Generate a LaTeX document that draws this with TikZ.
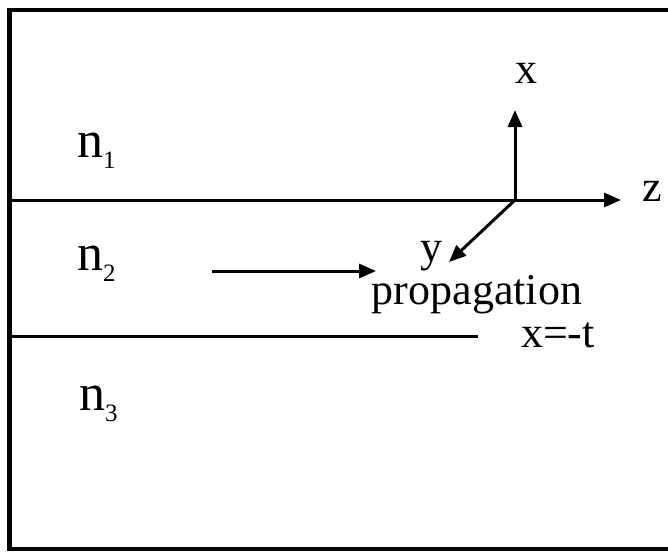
\documentclass[tikz,border=0pt]{standalone}
\usepackage{fontspec}
\setmainfont{Liberation Serif}
\usetikzlibrary{arrows.meta}
\newcommand{\mysub}[1]{\raisebox{-11pt}{\fontsize{25}{25}\selectfont #1}}
\tikzset{
  frameline/.style={line width=4.5pt, line join=miter},
  axisline/.style={line width=3pt},
  arr/.style={axisline, -{Triangle[length=17pt,width=14pt]}},
  lbl/.style={inner sep=0pt, anchor=base, font=\fontsize{44}{50}\selectfont},
  nlbl/.style={inner sep=0pt, anchor=base west, font=\fontsize{52}{58}\selectfont},
}
\begin{document}
\begin{tikzpicture}[x=1pt,y=-1pt]
\useasboundingbox (0,0) rectangle (668,551);
% frame (open on the right)
\coordinate (ftr) at (668,10);
\coordinate (ftl) at (9.5,10);
\coordinate (fbl) at (9.5,549);
\coordinate (fbr) at (668,549);
\draw[frameline] (ftr) -- (ftl) -- (fbl) -- (fbr);
% axes
\coordinate (O) at (515,200);
\coordinate (i1s) at (9.5,200);
\coordinate (ztip) at (621,200);
\coordinate (xtip) at (515,110);
\coordinate (ytip) at (449,262);
\draw[arr] (i1s) -- (ztip);
\draw[arr] (O) -- (xtip);
\draw[arr] (O) -- (ytip);
% lower interface
\coordinate (i2s) at (9.5,336);
\coordinate (i2e) at (478,336);
\draw[axisline] (i2s) -- (i2e);
% propagation arrow
\coordinate (ps) at (212,271);
\coordinate (pe) at (376,271);
\draw[arr] (ps) -- (pe);
% labels
\node[lbl] (lx) at (526,83) {x};
\node[lbl] (lz) at (652,201) {z};
\node[lbl] (ly) at (431,261) {y};
\node[lbl] (lprop) at (477,304) {propagation};
\node[lbl] (lt) at (558,347) {x=-t};
\node[nlbl] (n1) at (77,157) {n\mysub{1}};
\node[nlbl] (n2) at (77,270) {n\mysub{2}};
\node[nlbl] (n3) at (79,410) {n\mysub{3}};
\end{tikzpicture}
\end{document}
